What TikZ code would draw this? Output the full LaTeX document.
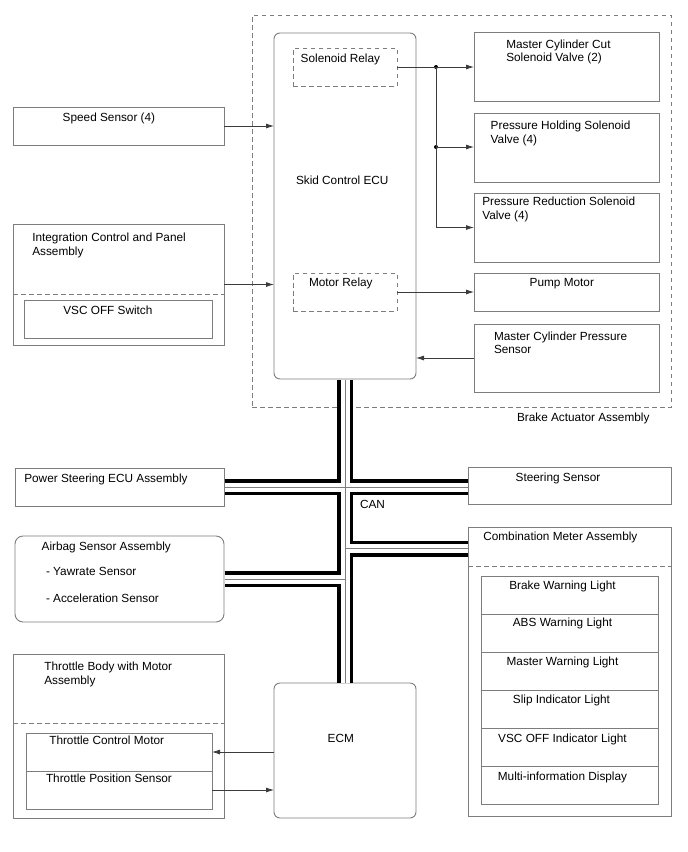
\documentclass[tikz,border=0pt]{standalone}
\usepackage{fontspec}
\setmainfont{Liberation Sans}
\usetikzlibrary{arrows.meta,fit}
\definecolor{boxgray}{RGB}{125,125,125}
\definecolor{linegray}{RGB}{60,60,60}
\begin{document}
\begin{tikzpicture}[x=1pt,y=-1pt,
  every node/.style={font=\fontsize{11.8}{13.7}\selectfont, inner sep=0pt, outer sep=0pt},
  box/.style={draw=boxgray, line width=0.9pt},
  rbox/.style={draw=boxgray, line width=0.9pt, rounded corners=6pt},
  dbox/.style={draw=boxgray, line width=0.9pt, dash pattern=on 4.5pt off 3.5pt},
  dline/.style={draw=boxgray, line width=0.9pt, dash pattern=on 4.5pt off 3.5pt},
  txt/.style={anchor=north west, align=left},
  ctxt/.style={anchor=north, align=center},
  ln/.style={draw=linegray, line width=0.8pt},
  arr/.style={draw=linegray, line width=0.8pt, -{Latex[length=8pt,width=5pt]}},
  jdot/.style={circle, fill=black, minimum size=4pt, inner sep=0pt}
]
\useasboundingbox (0,0) rectangle (688,852);
\fill[white] (0,0) rectangle (688,852);

% ---- Brake actuator assembly ----
\node[dbox, fit={(252,15) (671,407)}] (bact) {};
\node[txt] (tbact) at (517,413) {Brake Actuator Assembly};

\node[rbox, fit={(274,33) (416,379)}] (skid) {};
\node[txt] (tskid) at (296,176.3) {Skid Control ECU};
\node[dbox, fit={(293,48) (397,86)}] (solrel) {};
\node[txt] (tsolrel) at (300.7,53.8) {Solenoid Relay};
\node[dbox, fit={(293,273) (397,311)}] (motrel) {};
\node[txt] (tmotrel) at (309,277.9) {Motor Relay};

\node[box, fit={(474,32) (659,101)}] (mccut) {};
\node[txt] (tmccut) at (506.3,39.6) {Master Cylinder Cut\\Solenoid Valve (2)};
\node[box, fit={(474,113) (659,182)}] (phold) {};
\node[txt] (tphold) at (490.7,120.9) {Pressure Holding Solenoid\\Valve (4)};
\node[box, fit={(474,193) (659,262)}] (pred) {};
\node[txt] (tpred) at (482.3,197.3) {Pressure Reduction Solenoid\\Valve (4)};
\node[box, fit={(474,273) (659,311)}] (pump) {};
\node[txt] (tpump) at (529.7,277.9) {Pump Motor};
\node[box, fit={(474,324) (659,392)}] (mcps) {};
\node[txt] (tmcps) at (494,331.6) {Master Cylinder Pressure\\Sensor};

% ---- left inputs ----
\node[box, fit={(13,107) (224,145)}] (speed) {};
\node[txt] (tspeed) at (62.7,112.9) {Speed Sensor (4)};
\node[box, fit={(13,224) (224,345)}] (integ) {};
\node[txt] (tinteg) at (32.3,232.9) {Integration Control and Panel\\Assembly};
\draw[dline] (integ.west |- 0,294) -- (integ.east |- 0,294);
\node[box, fit={(24,300) (212,338)}] (vscsw) {};
\node[txt] (tvscsw) at (63.3,306.3) {VSC OFF Switch};

% ---- CAN nodes ----
\node[box, fit={(15,468) (224,506)}] (psteer) {};
\node[txt] (tpsteer) at (24.3,473.9) {Power Steering ECU Assembly};
\node[rbox, rounded corners=8pt, fit={(15,536) (224,622)}] (airbag) {};
\node[txt] (tairbag) at (41.7,542.3) {Airbag Sensor Assembly};
\node[txt] (tyaw) at (46,567.3) {- Yawrate Sensor};
\node[txt] (tacc) at (46,593.9) {- Acceleration Sensor};

\node[box, fit={(468,467) (671,504)}] (steer) {};
\node[txt] (tsteer) at (515.7,472.9) {Steering Sensor};

\node[box, fit={(468,527) (671,816)}] (comb) {};
\node[txt] (tcomb) at (483.3,532.3) {Combination Meter Assembly};
\draw[dline] (comb.west |- 0,566) -- (comb.east |- 0,566);
\node[box, fit={(481,576) (658,614)}] (r1) {};
\node[box, fit={(481,614) (658,652)}] (r2) {};
\node[box, fit={(481,652) (658,690)}] (r3) {};
\node[box, fit={(481,690) (658,728)}] (r4) {};
\node[box, fit={(481,728) (658,766)}] (r5) {};
\node[box, fit={(481,766) (658,804)}] (r6) {};
\node[ctxt] (tr1) at (562.5,581.3) {Brake Warning Light};
\node[ctxt] (tr2) at (562.5,618.3) {ABS Warning Light};
\node[ctxt] (tr3) at (562.5,656.6) {Master Warning Light};
\node[ctxt] (tr4) at (561.5,694.6) {Slip Indicator Light};
\node[ctxt] (tr5) at (562.5,733.9) {VSC OFF Indicator Light};
\node[ctxt] (tr6) at (562.5,772.3) {Multi-information Display};

\node[box, fit={(13,654) (224,818)}] (thr) {};
\node[txt] (tthr) at (44.3,662.3) {Throttle Body with Motor\\Assembly};
\draw[dline] (thr.west |- 0,723) -- (thr.east |- 0,723);
\node[box, fit={(26,733) (212,771)}] (tcm) {};
\node[txt] (ttcm) at (49.3,736.3) {Throttle Control Motor};
\node[box, fit={(26,771) (212,809)}] (tps) {};
\node[txt] (ttps) at (46,774.3) {Throttle Position Sensor};

\node[rbox, fit={(274,683) (416,818)}] (ecm) {};
\node[txt] (tecm) at (327.7,734.6) {ECM};

% ---- CAN bus ----
\coordinate (j2) at (345,548.5);
\foreach \w/\c in {16/black, 9/white, 0.8/boxgray}{
  \draw[line width=\w pt, \c] ([yshift=-0.5pt]skid.south) -- ([yshift=0.5pt]ecm.north);
  \draw[line width=\w pt, \c] ([xshift=0.5pt]psteer.east) -- ([xshift=-0.5pt]psteer.east -| steer.west);
  \draw[line width=\w pt, \c] (j2) -- ([xshift=-0.5pt]j2 -| comb.west);
  \draw[line width=\w pt, \c] ([xshift=0.5pt]airbag.east) -- (airbag.east -| ecm.north);
}
\node[txt] (tcan) at (360,500.6) {CAN};

% ---- signal lines ----
\draw[arr] (speed.east) -- (speed.east -| skid.west);
\draw[arr] (integ.east) -- (integ.east -| skid.west);
\node[jdot] (d1) at (436,67) {};
\node[jdot] (d2) at (436,147) {};
\draw[ln] (solrel.east) -- (d1.center);
\draw[arr] (d1.center) -- (d1.center -| mccut.west);
\draw[ln] (d1.center) -- (d2.center);
\draw[arr] (d2.center) -- (d2.center -| phold.west);
\draw[arr] (d2.center) |- (pred.west);
\draw[arr] (motrel.east) -- (motrel.east -| pump.west);
\draw[arr] (mcps.west) -- (mcps.west -| skid.east);
\draw[arr] (tcm.east -| ecm.west) -- (tcm.east);
\draw[arr] (tps.east) -- (tps.east -| ecm.west);
\end{tikzpicture}
\end{document}
